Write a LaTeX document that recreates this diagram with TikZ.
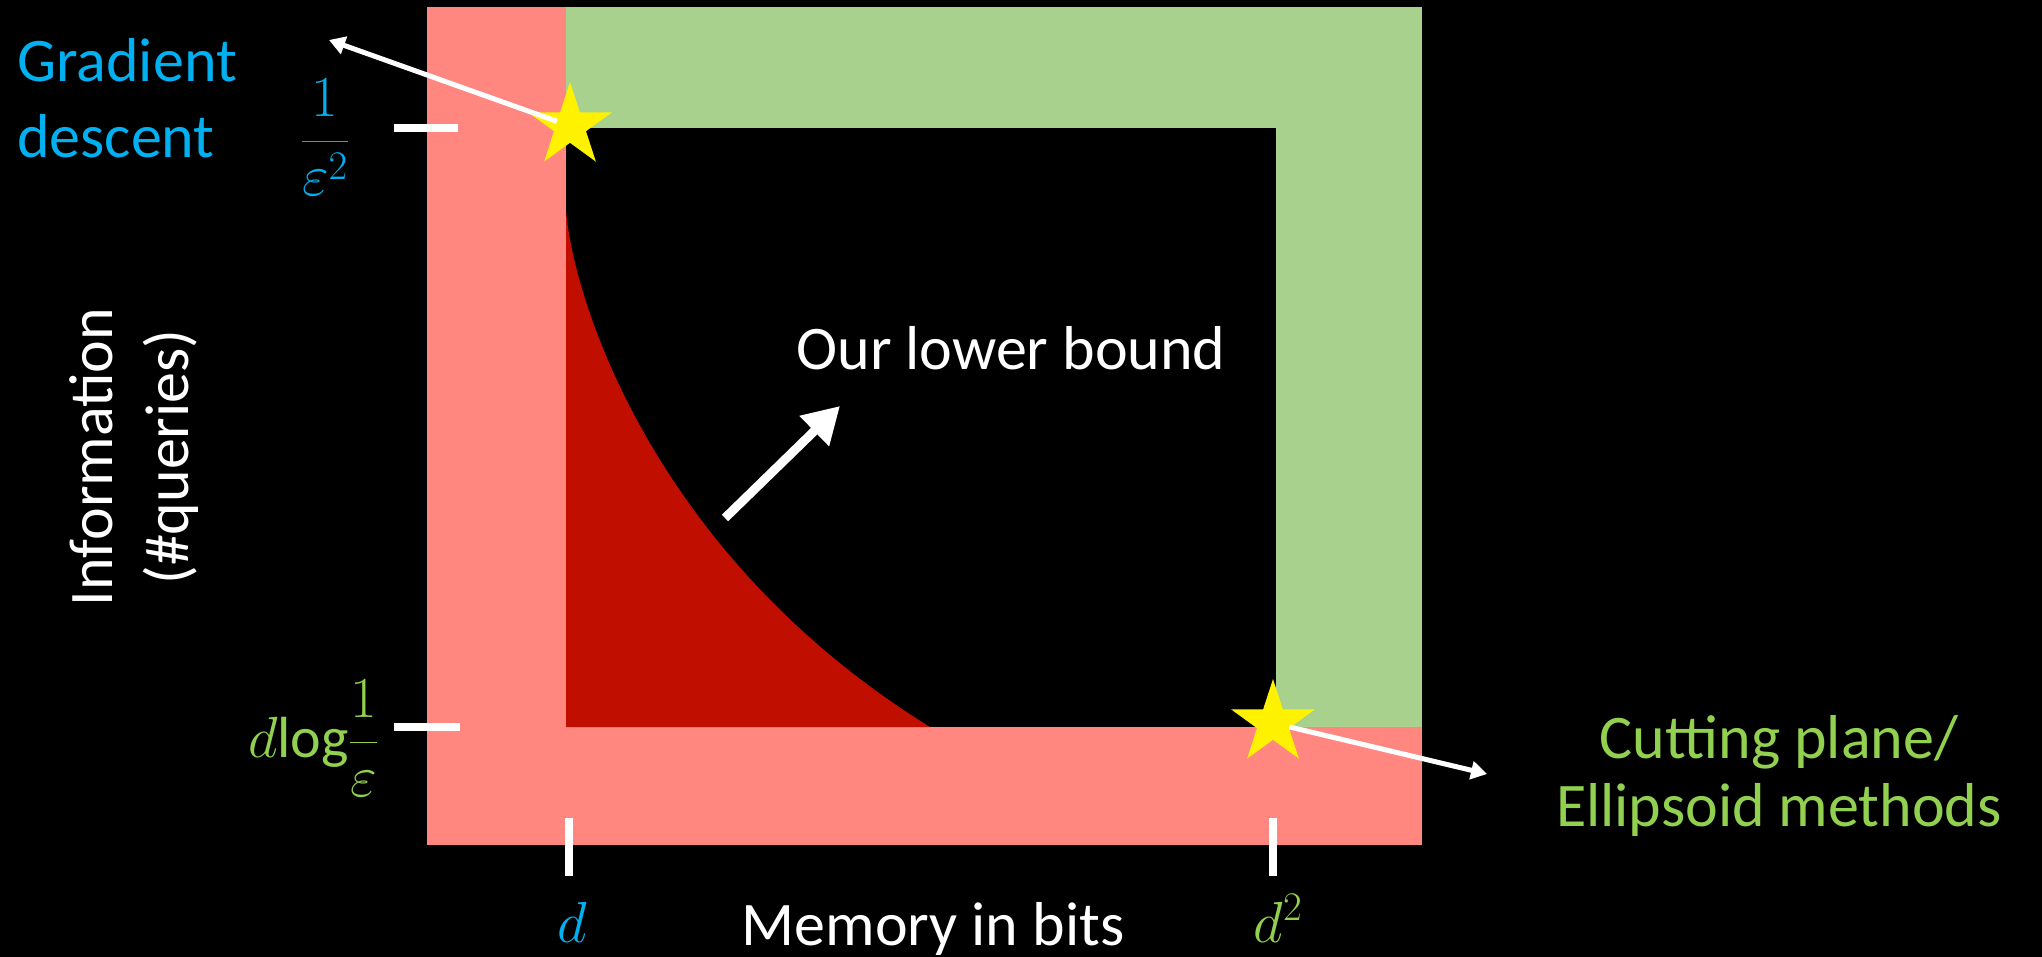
\RequirePackage{fix-cm}
\documentclass[tikz,border=0pt]{standalone}
\usepackage{amsmath}
\usepackage{fontspec}
\setmainfont{Carlito}
\usetikzlibrary{arrows.meta}
\usetikzlibrary{shapes.geometric}

\definecolor{bandred}{RGB}{255,135,128}
\definecolor{bandgreen}{RGB}{169,209,142}
\definecolor{boundred}{RGB}{192,14,0}
\definecolor{gdblue}{RGB}{0,176,240}
\definecolor{cpgreen}{RGB}{146,208,80}

\tikzset{
  starmark/.style={star, star points=5, star point ratio=2.618, fill=yellow, inner sep=0pt, minimum size=88pt},
  tickmark/.style={white, line width=8pt},
  thinarrow/.style={white, line width=5pt, -{Triangle[length=16pt,width=18pt]}},
  bigarrow/.style={white, line width=9pt, -{Triangle[length=36pt,width=40pt]}},
  txt/.style={inner sep=0pt, font=\fontsize{62}{76}\selectfont},
  mathtxt/.style={inner sep=0pt, font=\fontsize{58}{68}\selectfont},
}

\begin{document}
\begin{tikzpicture}[x=1pt,y=-1pt]
            \useasboundingbox (0,0) rectangle (2042,957);
            \fill[black] (0,0) rectangle (2042,957);

            % Trade-off regions
            \fill[bandred] (427,7) rectangle (1422,845);
            \fill[bandgreen] (566,7) rectangle (1422,727);
            \fill[black] (566,128) rectangle (1276,727);

            % Lower bound curve
            \fill[boundred] (566,727) -- (566,211) .. controls (575,310) and (660,560) .. (930,727) -- cycle;

            % Axis ticks
            \draw[tickmark] (394,128) -- (458,128);
            \draw[tickmark] (394,727) -- (460,727);
            \draw[tickmark] (569,818) -- (569,876);
            \draw[tickmark] (1273,818) -- (1273,876);

            % Known algorithms
            \node[starmark] (gd) at (570,126) {};
            \node[starmark] (cp) at (1273,723) {};
            \coordinate (gdend) at (329,40);
            \coordinate (cpend) at (1487,774);
            \draw[thinarrow, shorten <=14pt] (gd.center) -- (gdend);
            \draw[thinarrow, shorten <=17pt] (cp.center) -- (cpend);

            % Lower bound label
            \coordinate (lbtail) at (725,518);
            \coordinate (lbtip) at (840,406);
            \draw[bigarrow] (lbtail) -- (lbtip);
            \node[txt, white, anchor=base] (lb) at (1011,370) {Our lower bound};

            % Text labels
            \node[txt, gdblue, align=left, anchor=base west] (gdtext) at (17,158) {Gradient\\descent};
            \node[txt, cpgreen, align=center, font=\fontsize{62}{68}\selectfont] (cptext) at (1779,776) {Cutting plane/\\Ellipsoid methods};
            \node[txt, white, align=center, rotate=90] (ylabel) at (134,457) {Information\\(\#queries)};
            \node[txt, white, anchor=base] (xlabel) at (933,945) {Memory in bits};

            % Tick values
            \node[mathtxt, gdblue, anchor=base] (ytop) at (325,156) {$\dfrac{1}{\varepsilon^2}$};
            \node[mathtxt, cpgreen, anchor=base east] (ybot) at (378,757) {$d\!\log\!\dfrac{1}{\varepsilon}$};
            \node[mathtxt, gdblue, anchor=base] (xleft) at (572,942) {$d$};
            \node[mathtxt, cpgreen, anchor=base] (xright) at (1278,942) {$d^2$};
\end{tikzpicture}
\end{document}
